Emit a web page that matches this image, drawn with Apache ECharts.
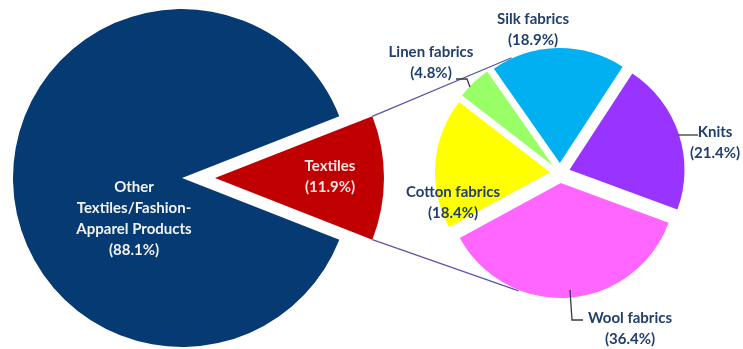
<!DOCTYPE html>
<html><head><meta charset="utf-8">
<script src="https://cdn.jsdelivr.net/npm/echarts@6/dist/echarts.min.js"></script>
<style>html,body{margin:0;padding:0;background:#fff}#c{width:743px;height:349px}</style>
</head><body><div id="c"></div>
<script>
// ---- data ----
const mainCategories = ['Textiles', 'Other\nTextiles/Fashion-\nApparel Products'];
const mainValues = [11.9, 88.1];
const subCategories = ['Silk fabrics', 'Knits', 'Wool fabrics', 'Cotton fabrics', 'Linen fabrics'];
const subValues = [18.9, 21.4, 36.4, 18.4, 4.8];

// ---- styles / layout ----
const mainColors = ['#C00000', '#063A72'];
const subColors = ['#00B0F0', '#9933FF', '#FF66FF', '#FFFF00', '#99FF66'];
const MAIN = { center: [182, 178], r: 169, offset: 33 };
const SUB = { center: [560, 173], r: 115, offset: 10, start: 125 };
const FONT = { fontFamily: 'Lato', fontWeight: 'bold', fontSize: 15, lineHeight: 21 };
const mainLabelPos = [[330, 177], [134, 219]];
const mainLabelColor = ['#FBE4E4', '#F2F2F2'];
const subLabelPos = [[533, 30], [715, 143], [630, 329], [453, 203], [431, 63]];
const subLeaders = [null, [[678, 135], [688, 135], [698, 135]], [[570, 290], [572, 320], [583, 320]], null, [[470, 87], [467, 79], [456, 79]]];
const textColor = '#203F6F';

// ---- geometry for connector lines ----
const mainTotal = mainValues.reduce((a, b) => a + b, 0);
const half = 180 * mainValues[0] / mainTotal;          // half angle of red slice
const mainStart = half;                                // red centred on 3 o'clock
const rad = d => d * Math.PI / 180;
const apex = [MAIN.center[0] + MAIN.offset, MAIN.center[1]];
const cornerTop = [apex[0] + MAIN.r * Math.cos(rad(half)), apex[1] - MAIN.r * Math.sin(rad(half))];
const cornerBot = [apex[0] + MAIN.r * Math.cos(rad(half)), apex[1] + MAIN.r * Math.sin(rad(half))];
function tangent(P, C, R, sign) {
  const dx = C[0] - P[0], dy = C[1] - P[1];
  const d = Math.hypot(dx, dy);
  const th = Math.atan2(dy, dx);
  const a = Math.asin(R / d);
  const dir = th + sign * a;
  const L = Math.sqrt(d * d - R * R);
  return [P[0] + L * Math.cos(dir), P[1] + L * Math.sin(dir)];
}
const Rsub = SUB.r + SUB.offset;
const tTop = tangent(cornerTop, SUB.center, Rsub, -1);
const tBot = tangent(cornerBot, SUB.center, Rsub, 1);

const graphics = [
  { type: 'line', z: 0, shape: { x1: cornerTop[0], y1: cornerTop[1], x2: tTop[0], y2: tTop[1] }, style: { stroke: '#5A56A8', lineWidth: 1.3 } },
  { type: 'line', z: 0, shape: { x1: cornerBot[0], y1: cornerBot[1], x2: tBot[0], y2: tBot[1] }, style: { stroke: '#5A56A8', lineWidth: 1.3 } }
];
subLeaders.forEach(pts => {
  if (pts) graphics.push({ type: 'polyline', z: 10, shape: { points: pts }, style: { stroke: '#3A3A3A', lineWidth: 1.3, fill: null } });
});
function addLabel(text, pos, color) {
  graphics.push({
    type: 'text', z: 20, x: pos[0], y: pos[1],
    style: Object.assign({ text: text, fill: color, align: 'center', verticalAlign: 'middle' }, FONT)
  });
}
mainCategories.forEach((n, i) => addLabel(n + '\n(' + mainValues[i] + '%)', mainLabelPos[i], mainLabelColor[i]));
subCategories.forEach((n, i) => addLabel(n + '\n(' + subValues[i] + '%)', subLabelPos[i], textColor));

const chart = echarts.init(document.getElementById('c'), null, { renderer: 'canvas' });
chart.setOption({
  animation: false,
  backgroundColor: '#fff',
  graphic: graphics,
  series: [
    {
      type: 'pie',
      center: MAIN.center,
      radius: [0, MAIN.r],
      startAngle: mainStart,
      clockwise: true,
      selectedMode: 'single',
      selectedOffset: MAIN.offset,
      emphasis: { disabled: true },
      label: { show: false },
      labelLine: { show: false },
      data: mainCategories.map((n, i) => ({
        name: n, value: mainValues[i], selected: i === 0,
        itemStyle: { color: mainColors[i] }
      }))
    },
    {
      type: 'pie',
      center: SUB.center,
      radius: [0, SUB.r],
      startAngle: SUB.start,
      clockwise: true,
      selectedMode: 'multiple',
      selectedOffset: SUB.offset,
      emphasis: { disabled: true },
      label: { show: false },
      labelLine: { show: false },
      data: subCategories.map((n, i) => ({
        name: n, value: subValues[i], selected: true,
        itemStyle: { color: subColors[i] }
      }))
    }
  ]
});
</script></body></html>
